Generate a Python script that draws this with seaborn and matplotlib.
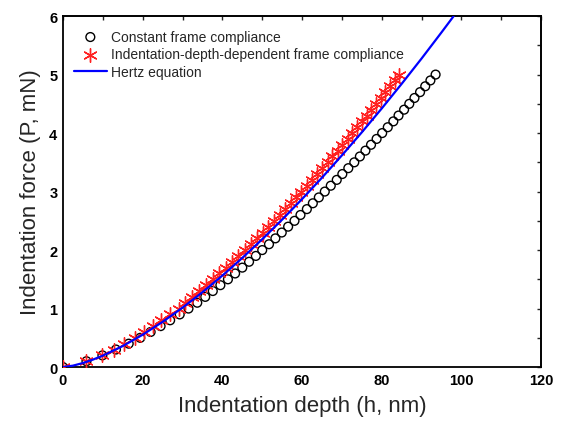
import numpy as np
import pandas as pd
import matplotlib
matplotlib.use("Agg")
import matplotlib.pyplot as plt
import seaborn as sns
from matplotlib.ticker import MultipleLocator

# ---- data ----
load = [0.0] + [round(0.1 * k, 1) for k in range(1, 51)]

depth_const = [0.0, 5.9, 9.9, 13.3, 16.5, 19.4, 22.0, 24.5, 26.9, 29.3, 31.5,
               33.7, 35.7, 37.6, 39.5, 41.4, 43.2, 45.0, 46.7, 48.4, 50.0,
               51.7, 53.3, 54.9, 56.5, 58.1, 59.6, 61.2, 62.7, 64.2, 65.7,
               67.2, 68.7, 70.1, 71.6, 73.1, 74.5, 75.9, 77.3, 78.7, 80.1,
               81.5, 82.9, 84.2, 85.6, 86.9, 88.2, 89.6, 90.9, 92.2, 93.5]

depth_dep = [0.0, 5.9, 9.7, 12.7, 15.4, 18.0, 20.3, 22.5, 24.6, 26.8, 29.0,
             30.6, 32.3, 34.1, 35.9, 37.6, 39.2, 40.9, 42.5, 44.0, 45.6,
             47.1, 48.6, 50.1, 51.5, 52.9, 54.4, 55.7, 57.1, 58.5, 59.8,
             61.2, 62.5, 63.8, 65.1, 66.4, 67.6, 68.9, 70.1, 71.4, 72.6,
             73.8, 75.0, 76.2, 77.4, 78.6, 79.8, 80.9, 82.1, 83.2, 84.3]

hertz_depth = [0, 2.5, 5, 7.5, 10, 15, 20, 25, 30, 35, 40, 45, 50, 55, 60,
               65, 70, 75, 80, 85, 90, 95, 98]
hertz_load = [0, 0.024, 0.069, 0.127, 0.195, 0.359, 0.553, 0.773, 1.015,
              1.280, 1.564, 1.866, 2.185, 2.521, 2.872, 3.238, 3.620, 4.014,
              4.422, 4.843, 5.276, 5.723, 5.996]

x_ticks = [0, 20, 40, 60, 80, 100, 120]
y_ticks = [0, 1, 2, 3, 4, 5, 6]

df_c = pd.DataFrame({"h": depth_const, "P": load})
df_d = pd.DataFrame({"h": depth_dep, "P": load})
df_h = pd.DataFrame({"h": hertz_depth, "P": hertz_load})

sns.set_theme(style="white")
plt.rcParams["font.family"] = ["Liberation Sans", "DejaVu Sans"]

fig = plt.figure(figsize=(5.62, 4.27), dpi=100)
ax = fig.add_axes([0.112, 0.138, 0.851, 0.822])

sns.scatterplot(data=df_c, x="h", y="P", ax=ax, marker="o", s=40,
                facecolors="none", edgecolor="black", linewidth=1.0,
                label="Constant frame compliance", zorder=3)
sns.scatterplot(data=df_d, x="h", y="P", ax=ax, marker=(6, 2, 0), s=95,
                color="#ff2020", linewidth=1.0,
                label="Indentation-depth-dependent frame compliance", zorder=4)
sns.lineplot(data=df_h, x="h", y="P", ax=ax, color="#0000ff", linewidth=1.6,
             label="Hertz equation", zorder=5)

ax.set_xlim(0, 120)
ax.set_ylim(0, 6)
ax.set_xticks(x_ticks)
ax.set_yticks(y_ticks)
ax.xaxis.set_minor_locator(MultipleLocator(10))
ax.yaxis.set_minor_locator(MultipleLocator(0.5))
ax.tick_params(which="major", direction="in", length=6, width=1.2,
               labelsize=10.5, pad=4, colors="black")
ax.tick_params(which="minor", direction="in", length=3.5, width=1.0)
for lab in ax.get_xticklabels() + ax.get_yticklabels():
    lab.set_fontweight("bold")

for s in ax.spines.values():
    s.set_color("black")
    s.set_linewidth(1.3)

secx = ax.secondary_xaxis("top")
secx.set_xticks(np.arange(0, 121, 10))
secx.tick_params(direction="in", length=3, width=1.0, labeltop=False)
secy = ax.secondary_yaxis("right")
secy.set_yticks(np.arange(0, 6.01, 0.5))
secy.tick_params(direction="in", length=3, width=1.0, labelright=False)

ax.set_xlabel("Indentation depth (h, nm)", fontsize=16, labelpad=6)
ax.set_ylabel("Indentation force (P, mN)", fontsize=16, labelpad=6)

leg = ax.legend(loc="upper left", bbox_to_anchor=(0.005, 0.985), frameon=False,
                fontsize=10, handlelength=2.4, handletextpad=0.3,
                labelspacing=0.25, borderaxespad=0.2)

fig.savefig("out.png", dpi=100)
